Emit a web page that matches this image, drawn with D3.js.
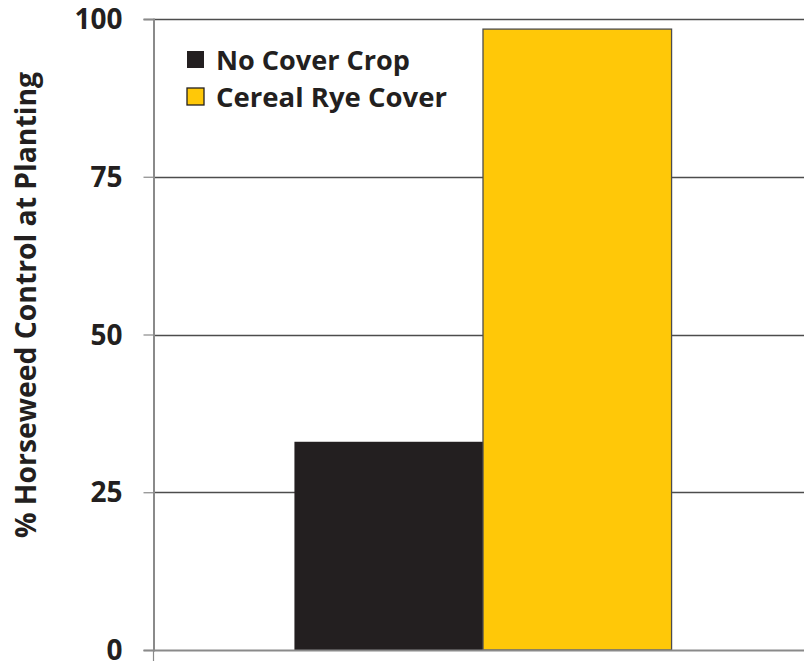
<!DOCTYPE html>
<html>
<head>
<meta charset="utf-8">
<script src="https://cdn.jsdelivr.net/npm/d3@7"></script>
<style>
  html, body { margin: 0; padding: 0; background: #fff; }
  svg { display: block; }
  text { font-family: "Open Sans", Lato, sans-serif; font-weight: 700; fill: #231f20; }
</style>
</head>
<body>
<svg id="chart" width="804" height="667"></svg>
<script>
// Horseweed control at planting, by cover treatment
const series = ["No Cover Crop", "Cereal Rye Cover"];
const values = [33, 98.4];
const colors = ["#231f20", "#ffc808"];
const yTicks = [0, 25, 50, 75, 100];
const yTitle = "% Horseweed Control at Planting";

const svg = d3.select("#chart");
const margin = { left: 153, right: -9, top: 19, bottom: 17 };
const W = 804, H = 667;
const x0 = margin.left, x1 = W - margin.right;
const y0 = H - margin.bottom, y1 = margin.top;

const y = d3.scaleLinear().domain([0, 100]).range([y0, y1]);

// single category group; bars clustered with a 75% gap around them
const gap = 0.75;
const groupWidth = (x1 - x0) / (1 + gap);
const groupStart = x0 + ((x1 - x0) - groupWidth) / 2;
const xs = d3.scaleBand().domain(series).range([groupStart, groupStart + groupWidth]).padding(0);

// gridlines
svg.append("g")
  .selectAll("line")
  .data(yTicks.filter(d => d > 0))
  .join("line")
  .attr("x1", x0).attr("x2", W)
  .attr("y1", d => Math.round(y(d)) + 0.5).attr("y2", d => Math.round(y(d)) + 0.5)
  .attr("stroke", "#4d4d4d").attr("stroke-width", 1.3);

// bars
svg.append("g")
  .selectAll("rect")
  .data(series.map((s, i) => ({ s, v: values[i], c: colors[i] })))
  .join("rect")
  .attr("x", d => xs(d.s))
  .attr("y", d => y(d.v))
  .attr("width", xs.bandwidth())
  .attr("height", d => y(0) - y(d.v))
  .attr("fill", d => d.c)
  .attr("stroke", d => d.s === series[0] ? "none" : "#4d4d4d")
  .attr("stroke-width", 1.3);

// y axis
const yAxis = d3.axisLeft(y).tickValues(yTicks).tickSize(10).tickPadding(21).tickFormat(d3.format("d"));
const ya = svg.append("g").attr("transform", `translate(${x0 + 0.5},0)`).call(yAxis);
ya.select(".domain").attr("stroke", "#8a8a8a").attr("stroke-width", 2);
ya.selectAll(".tick line").attr("stroke", "#8a8a8a").attr("stroke-width", 1.2);
ya.selectAll(".tick text")
  .style("font-size", "28px")
  .style("font-family", "'Open Sans', sans-serif")
  .attr("fill", "#231f20")
  .attr("dy", "0.34em");

// x axis baseline with the left category tick
svg.append("line")
  .attr("x1", x0).attr("x2", W)
  .attr("y1", y0 + 0.5).attr("y2", y0 + 0.5)
  .attr("stroke", "#8a8a8a").attr("stroke-width", 2);
svg.append("line")
  .attr("x1", x0 + 0.5).attr("x2", x0 + 0.5)
  .attr("y1", y0).attr("y2", y0 + 11)
  .attr("stroke", "#8a8a8a").attr("stroke-width", 1.2);

// axis title
svg.append("text")
  .attr("transform", `translate(36,305) rotate(-90)`)
  .attr("text-anchor", "middle")
  .attr("textLength", 466)
  .attr("lengthAdjust", "spacingAndGlyphs")
  .style("font-size", "28px")
  .text(yTitle);

// legend
const legendWidths = [194, 231];
const legend = svg.append("g").attr("transform", "translate(187,51)");
const items = legend.selectAll("g").data(series).join("g")
  .attr("transform", (d, i) => `translate(0,${i * 37})`);
items.append("rect")
  .attr("width", 17).attr("height", 17)
  .attr("fill", (d, i) => colors[i])
  .attr("stroke", (d, i) => i === 0 ? "none" : "#231f20")
  .attr("stroke-width", 1.3);
items.append("text")
  .attr("x", 29).attr("y", 19)
  .attr("textLength", (d, i) => legendWidths[i])
  .attr("lengthAdjust", "spacingAndGlyphs")
  .style("font-size", "27px")
  .text(d => d);
</script>
</body>
</html>
